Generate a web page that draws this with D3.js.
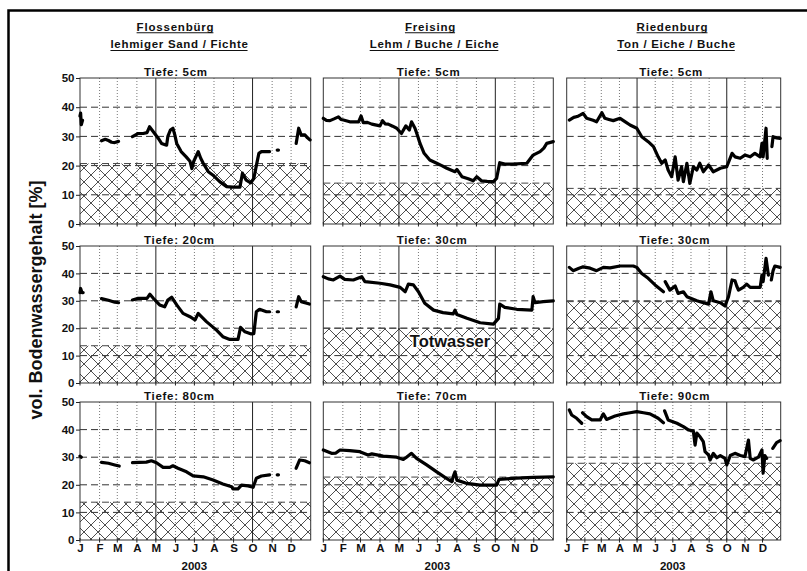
<!DOCTYPE html>
<html><head><meta charset="utf-8">
<script src="https://cdn.jsdelivr.net/npm/d3@7"></script>
<style>html,body{margin:0;padding:0;background:#fff}</style>
</head><body>
<svg id="c" width="807" height="571"></svg>
<script>
// ---------------- DATA ----------------
const monthLetters = ["J","F","M","A","M","J","J","A","S","O","N","D"];
const yTicks = [0,10,20,30,40,50];
const sites = ["Flossenbürg","Freising","Riedenburg"];
const soils = ["lehmiger Sand / Fichte","Lehm / Buche / Eiche","Ton / Eiche / Buche"];
const depthLabels = [
  ["Tiefe: 5cm","Tiefe: 20cm","Tiefe: 80cm"],
  ["Tiefe: 5cm","Tiefe: 30cm","Tiefe: 70cm"],
  ["Tiefe: 5cm","Tiefe: 30cm","Tiefe: 90cm"]
];
const deadWater = [[20.7,13.6,13.7],[14,20,22.8],[12.2,29.7,27.8]];
const yearLabel = "2003";
const deadWaterLabel = "Totwasser";
const yTitle = "vol. Bodenwassergehalt [%]";

// [day of year, vol. %]; null = gap
const flo5 = [[0,37],[1,38],[2,34],[4,35.5],[5,null],
 [34,28.5],[40,29],[45,28.6],[50,28],[55,27.9],[61,28.3],[62,null],
 [83,29.9],[88,30.5],[92,31],[100,31],[106,31.3],[110,33.3],[116,31.6],[124,29.3],[129,27.6],[137,27],[139,30],[143,32.2],[147,32.8],[150,30.5],[153,27.6],[160,24.8],[168,23],[174,21.5],[177,19],[180,21.5],[187,24.8],[191,22.5],[195,20.8],[203,17.9],[210,16.8],[221,14.5],[232,12.8],[242,12.6],[253,12.6],[257,17.4],[263,15],[270,14.1],[275,15.6],[279,20],[283,24.2],[287,24.8],[300,24.8],[301,null],
 [312,25.3],[314,25.3],[315,null],
 [342,27.6],[346,32.8],[350,30.5],[356,30.5],[360,29.5],[364,28.8]];
const flo20 = [[0,33],[1,34.5],[3,33],[5,33],[6,null],
 [34,30.8],[45,30.2],[55,29.5],[61,29.3],[62,null],
 [83,30.3],[92,30.9],[106,30.9],[110.6,32.4],[116,30.9],[126,28.5],[134,27.8],[139,30.3],[145,31.3],[153,28.5],[163,25.4],[174,24.2],[182,23],[187,25.4],[200,22.4],[216,19.3],[226,16.9],[237,15.9],[250,15.9],[254,20.3],[261,18.7],[271,17.9],[275,18],[279,26],[284,26.9],[295,26],[300,26],[301,null],
 [312,26],[314,26],[315,null],
 [342,27.8],[346,31.5],[350,29.7],[363,28.8]];
const flo80 = [[0,30.4],[2,30],[3,null],
 [34,28.1],[45,27.8],[55,27.2],[62,26.8],[63,null],
 [83,28],[105,28.2],[113,28.7],[121,28],[131.5,26.3],[142,26.3],[147,26.9],[155,26],[168.5,24.7],[179,23.2],[195,22.9],[210.6,21.7],[226,20.3],[240,19.3],[242,18.5],[250,18.5],[255.5,19.9],[266,19.6],[274,19.1],[279,22.4],[287,23.2],[300,23.6],[301,null],
 [312,23.6],[314,23.6],[315,null],
 [342,26],[347.6,29],[355.5,28.7],[363,28]];
const fre5 = [[0,36.2],[5,35.5],[10.6,35.4],[17,36],[24,36.7],[28,35.8],[32,35.6],[42,35],[56,35],[60,37],[63.5,34.7],[70,34.8],[77,34.2],[90,33.6],[94,35.4],[98,34.3],[103,34.2],[110,33.5],[116.5,32.8],[124,31],[131,33.6],[136.5,32.2],[140,35],[145.5,32.8],[150,30],[153.5,27.6],[160,24.2],[169,21.9],[180,20.8],[188,20],[196,19.1],[209,17.9],[212,18.7],[220,16.2],[230,15.5],[238,14.8],[243.5,16.2],[251,14.8],[260,14.6],[270,14.5],[275,15.6],[280,21],[288,20.5],[300,20.5],[323,20.8],[333,23.6],[344,24.8],[350,26],[354.6,27.6],[365,28.2]];
const fre30 = [[0,38.8],[8,38],[16,37.6],[26.5,39],[34,37.8],[47.6,37.6],[61,38.8],[66,37],[90,36.4],[106,35.8],[122,34.9],[130,33.3],[135,36.1],[143,35.8],[151,33.3],[161,29.1],[175,26.6],[190,25.7],[206,25.2],[209,26.6],[212,25],[228,23.6],[249,22],[270,21.5],[278,23.6],[280,28.8],[288,27.6],[307,26.9],[331,26.6],[333,31.5],[336,29.3],[349,29.7],[365,30]];
const fre70 = [[0,32.6],[13,31.4],[20,31.5],[26.5,32.6],[42,32.4],[58,32],[71,30.8],[77,31.2],[95,30.4],[116.5,30],[127,29.2],[132,30],[140,31.4],[148,29.6],[164,27.2],[180,24.7],[193,22.7],[204,21.1],[206,22.9],[209,24.7],[212,21.7],[228,20.5],[249,19.9],[275,19.9],[279,22],[307,22.4],[333,22.7],[365,22.9]];
const rie5 = [[4.5,35.6],[12,36.5],[18,36.8],[22.7,37.3],[28,37.9],[34,36.2],[45,35.5],[51,35],[60,38.1],[65,36.2],[72,35.8],[79.5,35.4],[91,36.2],[100,35],[108,33.9],[119.5,32.8],[128,29.9],[139,28.2],[148,26.5],[156,23],[162,20.8],[168,21.9],[173,18.5],[179,16.2],[185,23],[190,15],[196,19.6],[199,14.5],[205,20.8],[210,13.9],[216,19.6],[222,18.5],[227,20.8],[233,17.9],[242,20.2],[250,17.9],[262,19.1],[273,19.6],[282,24.2],[287,23],[296,22.5],[304,23.6],[313,23],[321,24.2],[330,23],[333,27.6],[335,23],[340,32.8],[342,22.5],[344,null],
 [350,26.5],[352,29.9],[358,29.5],[364,29.3]];
const rie30 = [[4.5,42.2],[11,41],[20,41.8],[28,42.4],[40,41.9],[51,41],[62.5,42.2],[74,42],[91,42.7],[113.6,42.7],[119.5,42.2],[128,40],[139,38.2],[150.7,35.8],[165,33.3],[166,null],
 [168,37],[176,33.9],[185,35.4],[190,32.7],[199,33.3],[205,31.5],[222,30],[233,29.3],[242,28.8],[246,33.3],[250,30],[262,29.3],[270,28.1],[276,31.5],[282,37.6],[287,37.3],[290,35.4],[293,33.9],[301,34.9],[307,36.1],[313,34.9],[330,34.9],[333,39.4],[335,37],[340,45.5],[344,39.4],[346,null],
 [349,37.6],[352,41],[355,42.7],[364,42.2]];
const rie90 = [[4.5,47.1],[8.5,45.3],[17,44.1],[25.6,42.3],[26.5,null],
 [27,46.1],[34,44.7],[42.7,43.5],[57,43.5],[62.5,45.7],[68,43.7],[82.4,44.9],[96.6,45.7],[108,46.1],[119.5,46.5],[131,46.1],[142,45.7],[156,44.1],[165,42.5],[165.5,null],
 [167,46.8],[173,43.5],[188,42.3],[199,41.1],[207.5,39.9],[216,39.5],[219,34.4],[222,38.7],[227.5,37.4],[233,35.6],[236,32],[242,30.8],[244.6,29],[250,31.4],[256,29.8],[262,30.6],[270,29.6],[273,27.2],[279,30.6],[287,31.4],[296,30.6],[304,30.2],[310,36.2],[313,29.6],[318,29],[327,30],[333,32.6],[335,24.2],[338,30.6],[341,29.6],[342,null],
 [351.5,33.2],[358,35.3],[364,36]];
const series = [[flo5,flo20,flo80],[fre5,fre30,fre70],[rie5,rie30,rie90]];

// ---------------- LAYOUT ----------------
const FONT = "'Liberation Sans', Arial, Helvetica, sans-serif";
const cols = [{x:80,w:230.7},{x:323.3,w:230},{x:566.7,w:214}];
const rows = [{y:78,h:146},{y:246,h:137},{y:402,h:138}];
const depthLeft = [144, 396.7, 639.3];
const siteCenter = [175.5, 430.5, 672.5];

const svg = d3.select("#c");
svg.append("rect").attr("width",807).attr("height",571).attr("fill","#fff");

const defs = svg.append("defs");
const pat = defs.append("pattern").attr("id","hatch")
  .attr("patternUnits","userSpaceOnUse").attr("width",14).attr("height",14);
pat.append("path").attr("d","M0,0L14,14M14,0L0,14M-1,13L1,15M13,-1L15,1")
  .attr("stroke","#444").attr("stroke-width",0.95).attr("fill","none");

// outer frame
svg.append("rect").attr("x",8.5).attr("y",10.5).attr("width",830).attr("height",600)
  .attr("fill","none").attr("stroke","#000").attr("stroke-width",2.5);

const t0 = new Date(Date.UTC(2003,0,1)), t1 = new Date(Date.UTC(2004,0,1));
const monthStarts = d3.utcMonth.range(t0, t1);
const dayDate = d => new Date(Date.UTC(2003,0,1) + d*86400000);

cols.forEach((col, ci) => {
  // site titles
  const st = svg.append("text").attr("x",siteCenter[ci]).attr("y",30.5)
    .attr("text-anchor","middle").attr("font-family",FONT).attr("font-weight","bold")
    .attr("font-size",11.5).attr("letter-spacing",0.8).attr("fill","#111").text(sites[ci]);
  const so = svg.append("text").attr("x",siteCenter[ci]+4).attr("y",48)
    .attr("text-anchor","middle").attr("font-family",FONT).attr("font-weight","bold")
    .attr("font-size",11.5).attr("letter-spacing",0.7).attr("fill","#111").text(soils[ci]);
  [[st,32.8],[so,50.5]].forEach(([t,yy]) => {
    const b = t.node().getBBox();
    svg.append("line").attr("x1",b.x).attr("x2",b.x+b.width-1).attr("y1",yy).attr("y2",yy)
      .attr("stroke","#111").attr("stroke-width",1.1);
  });

  rows.forEach((row, ri) => {
    const x = d3.scaleUtc().domain([t0,t1]).range([col.x, col.x+col.w]);
    const y = d3.scaleLinear().domain([0,50]).range([row.y+row.h, row.y]);
    const g = svg.append("g");
    const dw = deadWater[ci][ri];

    // hatched dead-water area
    g.append("rect").attr("x",col.x).attr("y",y(dw)).attr("width",col.w)
      .attr("height",y(0)-y(dw)).attr("fill","url(#hatch)");

    // vertical grid
    monthStarts.slice(1).forEach(m => {
      const mi = m.getUTCMonth();
      const solid = (mi===4 || mi===9);
      g.append("line").attr("x1",x(m)).attr("x2",x(m)).attr("y1",row.y).attr("y2",row.y+row.h)
        .attr("stroke", solid ? "#222" : "#777").attr("stroke-width", 1)
        .attr("stroke-dasharray", solid ? null : "1,2");
    });
    // horizontal dashed grid
    [10,20,30,40].forEach(v => {
      g.append("line").attr("x1",col.x).attr("x2",col.x+col.w).attr("y1",y(v)).attr("y2",y(v))
        .attr("stroke","#333").attr("stroke-width",1).attr("stroke-dasharray","7,4");
    });
    // dead-water upper boundary
    g.append("line").attr("x1",col.x).attr("x2",col.x+col.w).attr("y1",y(dw)).attr("y2",y(dw))
      .attr("stroke","#444").attr("stroke-width",1).attr("stroke-dasharray","7,4");

    // panel frame
    g.append("rect").attr("x",col.x).attr("y",row.y).attr("width",col.w).attr("height",row.h)
      .attr("fill","none").attr("stroke","#333").attr("stroke-width",1);

    // month ticks at bottom
    monthStarts.forEach(m => {
      g.append("line").attr("x1",x(m)).attr("x2",x(m)).attr("y1",y(0)-2).attr("y2",y(0)+2.5)
        .attr("stroke","#222").attr("stroke-width",1);
    });

    // data
    const line = d3.line().defined(d => d[1] !== null)
      .x(d => x(dayDate(d[0]))).y(d => y(d[1])).curve(d3.curveLinear);
    g.append("path").datum(series[ci][ri]).attr("d",line)
      .attr("fill","none").attr("stroke","#000").attr("stroke-width",3.2)
      .attr("stroke-linejoin","round").attr("stroke-linecap","round");

    // depth title
    svg.append("text").attr("x",depthLeft[ci]).attr("y",row.y-2.5)
      .attr("font-family",FONT).attr("font-weight","bold").attr("font-size",11.5)
      .attr("letter-spacing",0.7).attr("fill","#111").text(depthLabels[ci][ri]);

    // y axis on first column
    if (ci === 0) {
      const ax = svg.append("g").attr("transform",`translate(${col.x},0)`)
        .call(d3.axisLeft(y).tickValues(yTicks).tickSize(4).tickPadding(1.5));
      ax.select(".domain").remove();
      ax.selectAll("line").attr("stroke","#222");
      ax.selectAll("text").attr("font-family",FONT).attr("font-weight","bold")
        .attr("font-size",11.5).attr("fill","#111");
    }
    // month axis on last row
    if (ri === 2) {
      const bx = svg.append("g").attr("transform",`translate(0,${y(0)})`)
        .call(d3.axisBottom(x).tickValues(monthStarts).tickSize(2.5).tickPadding(1.5)
          .tickFormat(d => monthLetters[d.getUTCMonth()]));
      bx.select(".domain").remove();
      bx.selectAll("line").remove();
      bx.selectAll("text").attr("font-family",FONT).attr("font-weight","bold")
        .attr("font-size",11.5).attr("fill","#111");
      svg.append("text").attr("x",col.x+col.w/2-1).attr("y",569.5).attr("text-anchor","middle")
        .attr("font-family",FONT).attr("font-weight","bold").attr("font-size",11.5)
        .attr("fill","#111").text(yearLabel);
    }
    // Totwasser label
    if (ci === 1 && ri === 1) {
      svg.append("text").attr("x",450).attr("y",346.5).attr("text-anchor","middle")
        .attr("font-family",FONT).attr("font-weight","bold").attr("font-size",16.5)
        .attr("fill","#111").attr("stroke","#fff").attr("stroke-width",3)
        .attr("paint-order","stroke").text(deadWaterLabel);
    }
  });
});

// y axis title
svg.append("text").attr("transform","translate(41.5,300) rotate(-90)")
  .attr("text-anchor","middle").attr("font-family",FONT).attr("font-weight","bold")
  .attr("font-size",18).attr("fill","#111").text(yTitle);
</script></body></html>
